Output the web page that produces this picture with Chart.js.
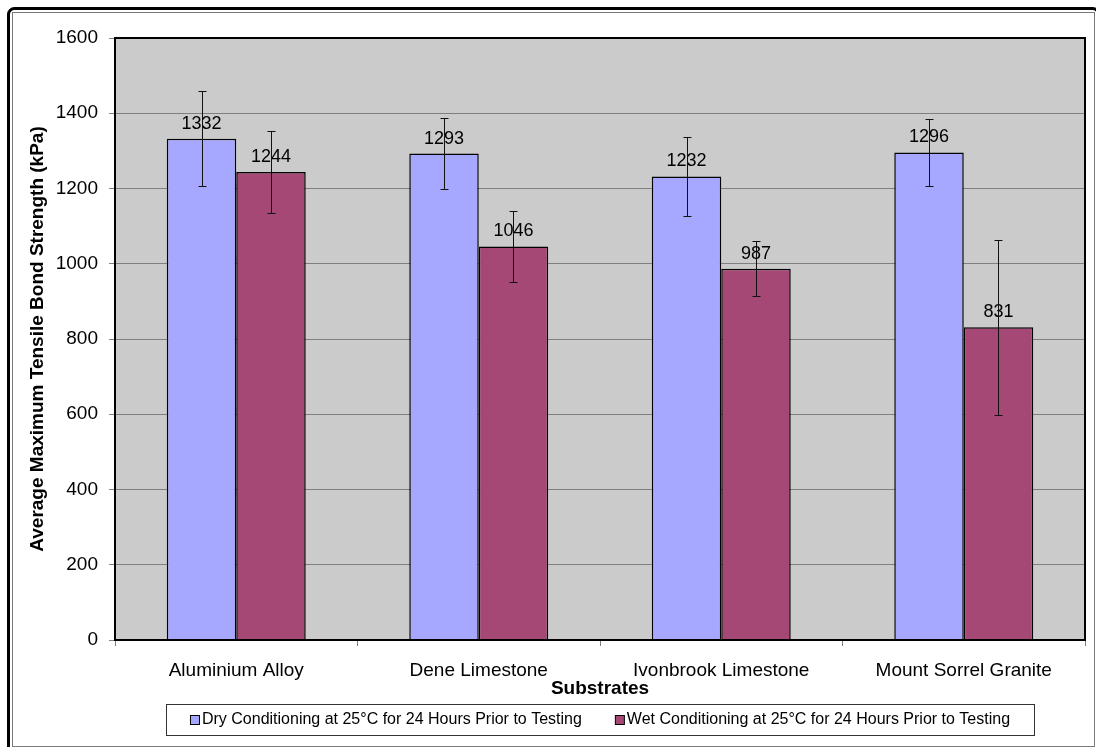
<!DOCTYPE html>
<html>
<head>
<meta charset="utf-8">
<script src="https://cdn.jsdelivr.net/npm/chart.js@4.4.0/dist/chart.umd.min.js"></script>
<style>
  html, body { margin: 0; padding: 0; background: #ffffff; overflow: hidden; }
  #wrap { position: relative; width: 1096px; height: 747px; }
</style>
</head>
<body>
<div id="wrap"><canvas id="chart" width="1096" height="747"></canvas></div>
<script>
// Substrates tested and their mean bond strengths (kPa)
const categories = ['Aluminium Alloy', 'Dene Limestone', 'Ivonbrook Limestone', 'Mount Sorrel Granite'];
const seriesNames = [
  'Dry Conditioning at 25°C for 24 Hours Prior to Testing',
  'Wet Conditioning at 25°C for 24 Hours Prior to Testing'
];
const dryValues = [1332, 1293, 1232, 1296];
const wetValues = [1244, 1046, 987, 831];
// Standard deviations shown as error bars
const dryErrors = [126, 95, 105, 89];
const wetErrors = [110, 95, 73, 233];
const yTickValues = [0, 200, 400, 600, 800, 1000, 1200, 1400, 1600];

const FONT = '"Liberation Sans", Arial, Helvetica, sans-serif';
const NARROW = '"Liberation Sans Narrow", "Arial Narrow", "Liberation Sans", Arial, sans-serif';
const errorSets = [dryErrors, wetErrors];

// White page with a double frame, grey plot background
const framePlugin = {
  id: 'frame',
  beforeDraw(chart) {
    const ctx = chart.ctx;
    const a = chart.chartArea;
    ctx.save();
    ctx.fillStyle = '#ffffff';
    ctx.fillRect(0, 0, chart.width, chart.height);
    ctx.strokeStyle = '#000000';
    ctx.lineWidth = 3;
    ctx.beginPath();
    ctx.roundRect(8.5, 8.5, 1090, 760, 6);
    ctx.stroke();
    ctx.strokeStyle = '#7a7a7a';
    ctx.lineWidth = 1;
    ctx.strokeRect(12.5, 12.5, 1082, 734);
    ctx.fillStyle = '#cbcbcb';
    ctx.fillRect(a.left, a.top, a.right - a.left, a.bottom - a.top);
    ctx.restore();
  }
};

// Value labels, error bars, plot border and boxed legend
const annotatePlugin = {
  id: 'annotate',
  afterDatasetsDraw(chart) {
    const ctx = chart.ctx;
    const y = chart.scales.y;
    const a = chart.chartArea;
    ctx.save();
    ctx.font = '18px ' + FONT;
    ctx.fillStyle = '#000000';
    ctx.textAlign = 'center';
    ctx.textBaseline = 'alphabetic';
    chart.data.datasets.forEach((ds, di) => {
      const meta = chart.getDatasetMeta(di);
      meta.data.forEach((bar, i) => {
        ctx.fillText(String(ds.data[i]), bar.x, bar.y - 10);
      });
    });
    ctx.strokeStyle = '#111111';
    ctx.lineWidth = 1;
    chart.data.datasets.forEach((ds, di) => {
      const meta = chart.getDatasetMeta(di);
      meta.data.forEach((bar, i) => {
        const v = ds.data[i];
        const e = errorSets[di][i];
        const x = Math.round(bar.x) + 0.5;
        const yt = Math.round(y.getPixelForValue(v + e)) + 0.5;
        const yb = Math.round(y.getPixelForValue(v - e)) + 0.5;
        ctx.beginPath();
        ctx.moveTo(x, yt); ctx.lineTo(x, yb);
        ctx.moveTo(x - 4, yt); ctx.lineTo(x + 4, yt);
        ctx.moveTo(x - 4, yb); ctx.lineTo(x + 4, yb);
        ctx.stroke();
      });
    });
    ctx.strokeStyle = '#000000';
    ctx.lineWidth = 2;
    ctx.strokeRect(a.left, a.top, a.right - a.left, a.bottom - a.top);
    ctx.restore();
  },
  afterDraw(chart) {
    const ctx = chart.ctx;
    const a = chart.chartArea;
    const cx = (a.left + a.right) / 2;
    const boxW = 868, boxTop = 704.5, boxH = 31;
    ctx.save();
    ctx.strokeStyle = '#333333';
    ctx.lineWidth = 1;
    ctx.strokeRect(Math.round(cx - boxW / 2) + 0.5, boxTop, boxW, boxH);
    // Condensed face if available, otherwise a smaller regular face
    ctx.font = '19px ' + NARROW;
    if (ctx.measureText(chart.data.datasets[0].label).width > 400) {
      ctx.font = '16px ' + FONT;
    }
    ctx.textBaseline = 'middle';
    ctx.textAlign = 'left';
    const sq = 9, gap = 3, itemGap = 33;
    const widths = chart.data.datasets.map(ds => ctx.measureText(ds.label).width);
    const total = widths.reduce((s, w) => s + sq + gap + w, 0) + itemGap;
    let x = cx - total / 2;
    const ty = boxTop + boxH / 2;
    chart.data.datasets.forEach((ds, di) => {
      ctx.fillStyle = ds.backgroundColor;
      ctx.fillRect(x + 0.5, ty - 4.5, sq, sq);
      ctx.strokeStyle = '#000000';
      ctx.strokeRect(x + 0.5, ty - 4.5, sq, sq);
      x += sq + gap;
      ctx.fillStyle = '#000000';
      ctx.fillText(ds.label, x, ty);
      x += widths[di] + itemGap;
    });
    ctx.restore();
  }
};

new Chart(document.getElementById('chart'), {
  type: 'bar',
  data: {
    labels: categories,
    datasets: [
      { label: seriesNames[0], data: dryValues, backgroundColor: '#a6a8ff', borderColor: '#000000', borderWidth: 1.5,
        categoryPercentage: 0.573, barPercentage: 1.0 },
      { label: seriesNames[1], data: wetValues, backgroundColor: '#a64876', borderColor: '#000000', borderWidth: 1.5,
        categoryPercentage: 0.573, barPercentage: 1.0 }
    ]
  },
  options: {
    responsive: false,
    animation: false,
    devicePixelRatio: 1,
    layout: { padding: { left: 14, right: 11, top: 38, bottom: 47 } },
    plugins: {
      legend: { display: false },
      tooltip: { enabled: false }
    },
    scales: {
      x: {
        afterFit(scale) { scale.height = 60; },
        grid: { display: true, drawOnChartArea: false, drawTicks: true, tickLength: 6, color: '#808080', offset: true },
        border: { display: false },
        ticks: { color: '#000000', font: { family: FONT, size: 19 }, padding: 13, maxRotation: 0 },
        title: { display: true, text: 'Substrates', color: '#000000', font: { family: FONT, size: 19, weight: 'bold' }, padding: { top: 0, bottom: 0 } }
      },
      y: {
        min: 0, max: 1600,
        afterFit(scale) { scale.width = 101; },
        afterBuildTicks(scale) { scale.ticks = yTickValues.map(v => ({ value: v })); },
        grid: { color: '#7f7f7f', lineWidth: 1, drawTicks: true, tickLength: 6, tickColor: '#808080' },
        border: { display: false },
        ticks: { color: '#000000', font: { family: FONT, size: 19 }, padding: 11,
                 callback: (v) => String(v) },
        title: { display: true, text: 'Average Maximum Tensile Bond Strength (kPa)', color: '#000000',
                 font: { family: FONT, size: 19, weight: 'bold' }, padding: { top: 12, bottom: 0 } }
      }
    }
  },
  plugins: [framePlugin, annotatePlugin]
});
</script>
</body>
</html>
